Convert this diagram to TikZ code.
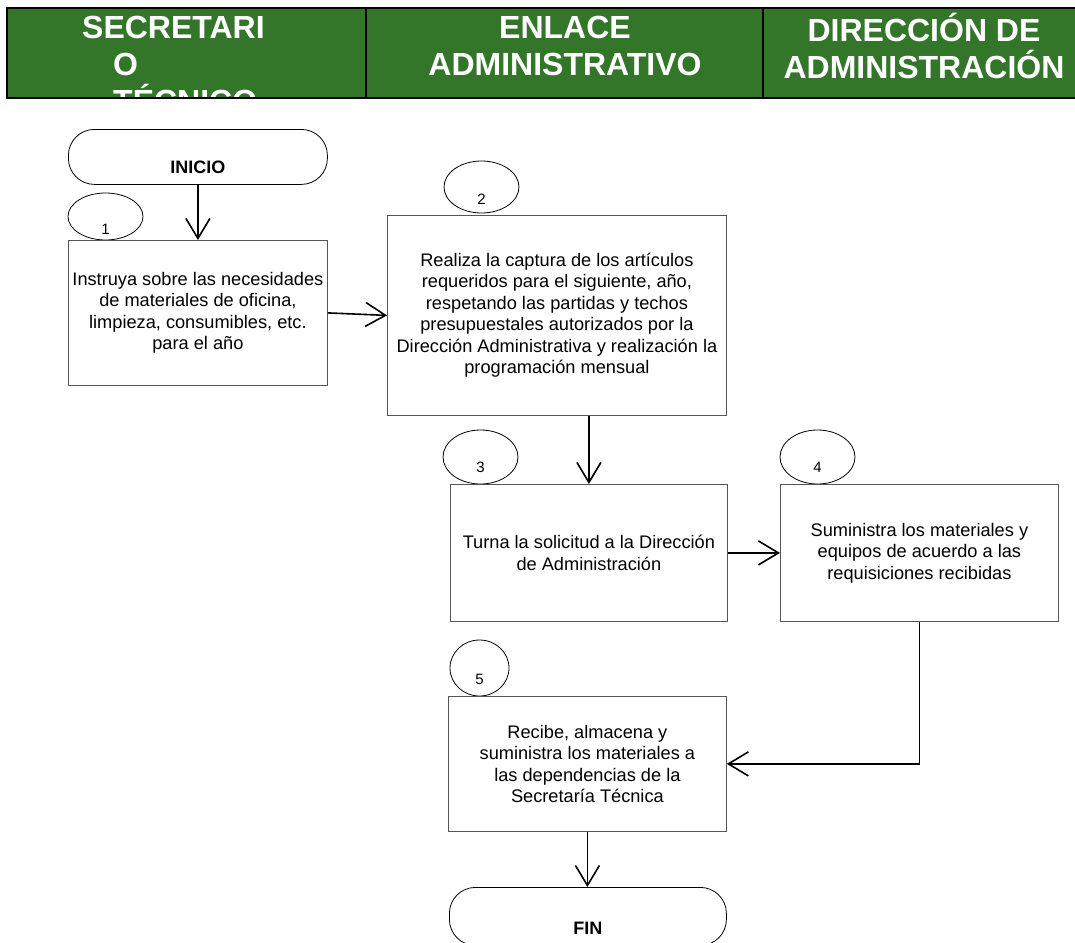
\documentclass[tikz,border=0pt]{standalone}
\usepackage{fontspec}
\setmainfont{Liberation Sans}
\usetikzlibrary{shapes.geometric,arrows.meta}
\definecolor{hdrgreen}{RGB}{51,117,41}
\definecolor{boxline}{RGB}{85,85,85}

\begin{document}
\begin{tikzpicture}[x=1pt,y=-1pt]
  \tikzset {
    box/.style={
      rectangle,
      draw=boxline,
      line width=0.8pt,
      anchor=north west,
      align=center,
      inner sep=0pt,
      font=\fontsize{18.2}{21.5}\selectfont
    },
    num/.style={
      ellipse,
      draw=black,
      line width=0.8pt,
      inner xsep=0pt,
      inner ysep=-12pt,
      font=\fontsize{15}{17}\selectfont
    },
    term/.style={
      rectangle,
      rounded corners=26pt,
      draw=black,
      line width=0.8pt,
      anchor=north west,
      inner sep=0pt,
      font=\fontsize{18}{20}\selectfont\bfseries
    },
    lane/.style={
      text=white,
      inner sep=0pt,
      align=center,
      font=\fontsize{32}{37}\selectfont\bfseries
    },
    flow/.style={
      -{Straight Barb[length=20pt,width=24pt]},
      line width=1.6pt
    }
  }
  \useasboundingbox (0,0) rectangle (1075,942);

  % header
  \fill[hdrgreen] (7,8) rectangle (1075,98);
  \begin{scope}
    \clip (7,8) rectangle (1075,98);
    \node[lane, anchor=west, align=left] (secre) at (82,64)
      {SECRETARI\\\hspace*{31pt}O\\\hspace*{31pt}TÉCNICO};
    \node[lane] (enlace) at (565,45.5) {ENLACE\\ADMINISTRATIVO};
    \node[lane] (direc) at (924,45.5) {DIRECCIÓN DE\\ADMINISTRACIÓN};
  \end{scope}
  \draw[line width=2pt] (1075,8) -- (7,8) -- (7,98) -- (1075,98);
  \draw[line width=2pt] (366,8) -- (366,98) (763,8) -- (763,98);

  % steps
  \node[term, minimum width=259pt, minimum height=55pt, text height=33pt] (ini) at (68,129) {INICIO};

  \node[num, minimum width=75pt, minimum height=47pt, text height=36pt] (n1) at (105.5,216.5) {1};
  \node[box, minimum width=259pt, minimum height=145pt] (b1) at (68,240)
    {Instruya sobre las necesidades\\de materiales de oficina,\\limpieza, consumibles, etc.\\para el año};

  \node[num, minimum width=75pt, minimum height=52pt, text height=35pt] (n2) at (481.5,187) {2};
  \node[box, minimum width=339pt, minimum height=200pt] (b2) at (387,215)
    {Realiza la captura de los artículos\\requeridos para el siguiente, año,\\respetando las partidas y techos\\presupuestales autorizados por la\\Dirección Administrativa y realización la\\programación mensual};

  \node[num, minimum width=75pt, minimum height=54pt, text height=31pt] (n3) at (480.5,457) {3};
  \node[box, minimum width=277pt, minimum height=137pt] (b3) at (450,484)
    {Turna la solicitud a la Dirección\\de Administración};

  \node[num, minimum width=75pt, minimum height=54pt, text height=31pt] (n4) at (817.5,457) {4};
  \node[box, minimum width=278pt, minimum height=137pt] (b4) at (780,484)
    {Suministra los materiales y\\equipos de acuerdo a las\\requisiciones recibidas};

  \node[num, minimum width=59pt, minimum height=56pt, text height=33pt] (n5) at (479.5,668) {5};
  \node[box, minimum width=278pt, minimum height=135pt] (b5) at (448,696)
    {Recibe, almacena y\\suministra los materiales a\\las dependencias de la\\Secretaría Técnica};

  \node[term, minimum width=277pt, minimum height=58pt, text height=37pt] (fin) at (449,887) {FIN};

  % connectors
  \draw[flow] (ini) -- (b1);
  \draw[flow] (b1.east) -- (b2.west);
  \draw[flow] (b2.south -| b3.north) -- (b3.north);
  \draw[flow] (b3.east) -- (b4.west);
  \draw[flow] (b4.south) -- (b4.south |- b5.east) -- (b5.east);
  \draw[flow] (b5.south) -- (b5.south |- fin.north);

\end{tikzpicture}
\end{document}
